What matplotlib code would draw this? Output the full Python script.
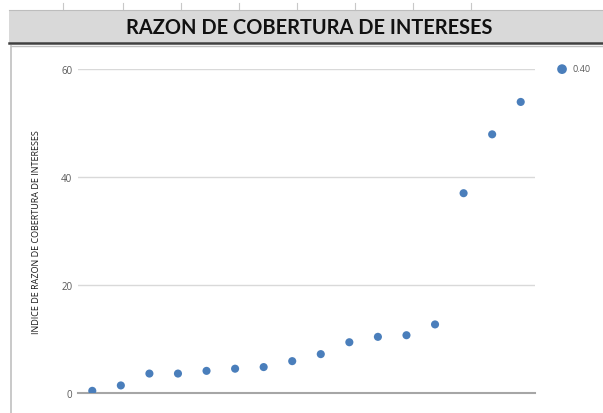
import matplotlib.pyplot as plt
from matplotlib.patches import Rectangle
from matplotlib.lines import Line2D

# data
periodos = list(range(1, 17))
indice = [0.40, 1.4, 3.6, 3.6, 4.1, 4.5, 4.8, 5.9, 7.2, 9.4, 10.4, 10.7, 12.7, 37.0, 47.9, 53.9]
serie_nombre = "0.40"
yticks = [0, 20, 40, 60]

W, H = 603, 414
fig = plt.figure(figsize=(W / 100, H / 100), dpi=100)
fig.patch.set_facecolor("white")


def fx(px):
    return px / W


def fy(py):
    return 1 - py / H


# spreadsheet decoration: column ticks, title bar, chart border
for x in [63, 123, 181, 239, 297, 355, 413, 471]:
    fig.add_artist(Line2D([fx(x), fx(x)], [fy(4), fy(11)], color="#c8c8c8", lw=0.8))
fig.add_artist(Rectangle((fx(9), fy(44)), 1 - fx(9), fy(11) - fy(44),
                         facecolor="#d9d9d9", edgecolor="none", transform=fig.transFigure))
fig.add_artist(Line2D([fx(9), 1], [fy(11), fy(11)], color="#bdbdbd", lw=0.8))
fig.add_artist(Line2D([fx(9), 1], [fy(44), fy(44)], color="#404040", lw=1.8))
fig.add_artist(Line2D([fx(10.5), 1], [fy(47), fy(47)], color="#c0c0c0", lw=1.0))
fig.add_artist(Line2D([fx(10.5), fx(10.5)], [fy(47), 0], color="#c0c0c0", lw=1.2))

fig.text(fx(309), fy(28), "RAZON DE COBERTURA DE INTERESES", ha="center", va="center",
         fontsize=14.4, fontweight="bold", family="Lato", color="#111111")

ax = fig.add_axes([fx(78), fy(394), fx(535) - fx(78), fy(70) - fy(394)])
ax.scatter(periodos, indice, s=34, color="#4a7ebb", edgecolors="none", zorder=3, label=serie_nombre)
ax.set_xlim(0.5, 16.5)
ax.set_ylim(0, 60)
ax.set_yticks(yticks)
ax.set_xticks([])
ax.grid(axis="y", color="#d9d9d9", lw=1.0)
ax.set_axisbelow(True)
for s in ["top", "right", "left"]:
    ax.spines[s].set_visible(False)
ax.spines["bottom"].set_color("#a6a6a6")
ax.spines["bottom"].set_linewidth(1.5)
ax.spines["bottom"].set_zorder(2)
ax.tick_params(axis="y", length=0, pad=4, labelsize=7, labelcolor="#595959")
for lab in ax.get_yticklabels():
    lab.set_family("Open Sans")

fig.text(fx(37), fy(232), "INDICE DE RAZON DE COBERTURA DE INTERESES", rotation=90,
         ha="center", va="center", fontsize=6.5, family="Open Sans", color="#1a1a1a")

ax.legend(loc="center left", bbox_to_anchor=(fx(553), fy(70)), bbox_transform=fig.transFigure,
          frameon=False, handletextpad=0.2, borderaxespad=0, borderpad=0,
          markerscale=1.2, prop={"family": "Open Sans", "size": 6.5})
for t in ax.get_legend().get_texts():
    t.set_color("#595959")

fig.savefig("out.png", dpi=100)
